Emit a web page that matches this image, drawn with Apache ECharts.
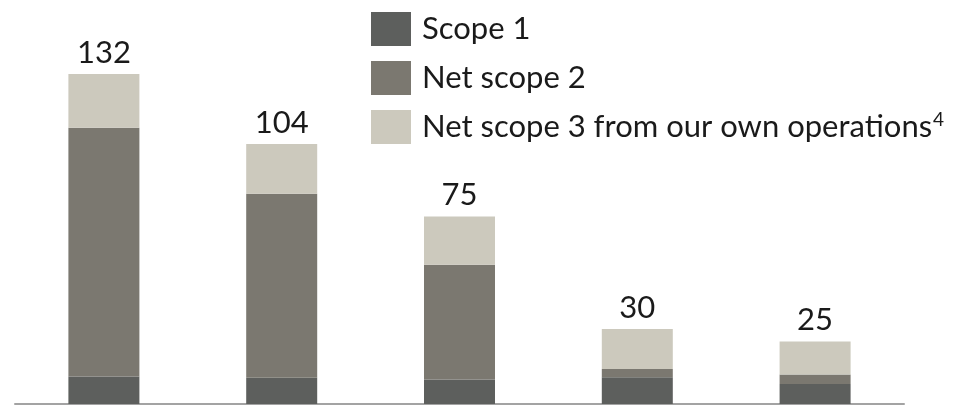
<!DOCTYPE html>
<html>
<head>
<meta charset="utf-8">
<script src="https://cdn.jsdelivr.net/npm/echarts@6/dist/echarts.min.js"></script>
<style>html,body{margin:0;padding:0;background:#fff;}#c{width:953px;height:407px;}</style>
</head>
<body>
<div id="c"></div>
<script>
const categories = ['A', 'B', 'C', 'D', 'E'];
const scope1 = [11.0, 10.5, 9.8, 10.7, 8.0];
const scope2 = [99.5, 73.6, 45.9, 3.3, 3.8];
const scope3 = [21.5, 19.9, 19.3, 16.0, 13.2];
const totals = [132, 104, 75, 30, 25];
const seriesNames = ['Scope 1', 'Net scope 2', 'Net scope 3 from our own operations'];
const colors = ['#5d5f5d', '#7b7870', '#ccc9bd'];

const chart = echarts.init(document.getElementById('c'));
const font = 'Lato, "Open Sans", sans-serif';
const mk = (name, data, color, last) => ({
  name, type: 'bar', stack: 'total', data, barWidth: 71,
  itemStyle: { color },
  label: last ? {
    show: true, position: 'top', distance: 6,
    formatter: p => totals[p.dataIndex],
    fontFamily: font, fontSize: 31, color: '#1a1a1a'
  } : { show: false }
});
chart.setOption({
  animation: false,
  grid: { left: 15, right: 49, top: 4, bottom: 3 },
  xAxis: {
    type: 'category', data: categories,
    axisLine: { lineStyle: { color: '#a3a3a3', width: 2 } },
    axisTick: { show: false }, axisLabel: { show: false }
  },
  yAxis: { type: 'value', min: 0, max: 160, show: false, splitLine: { show: false } },
  legend: {
    orient: 'vertical', left: 366, top: 7,
    itemWidth: 40, itemHeight: 34, itemGap: 15,
    data: seriesNames.map(n => ({ name: n, icon: 'rect' })),
    formatter: n => n === seriesNames[2] ? '{t|' + n + '}{s|4}' : '{t|' + n + '}',
    textStyle: {
      padding: [0, 0, 0, 6],
      rich: {
        t: { fontFamily: font, fontSize: 31, color: '#1a1a1a' },
        s: { fontFamily: font, fontSize: 19, color: '#1a1a1a', verticalAlign: 'top', padding: [0, 0, 14, 1] }
      }
    }
  },
  series: [
    mk(seriesNames[0], scope1, colors[0], false),
    mk(seriesNames[1], scope2, colors[1], false),
    mk(seriesNames[2], scope3, colors[2], true)
  ]
});
</script>
</body>
</html>
